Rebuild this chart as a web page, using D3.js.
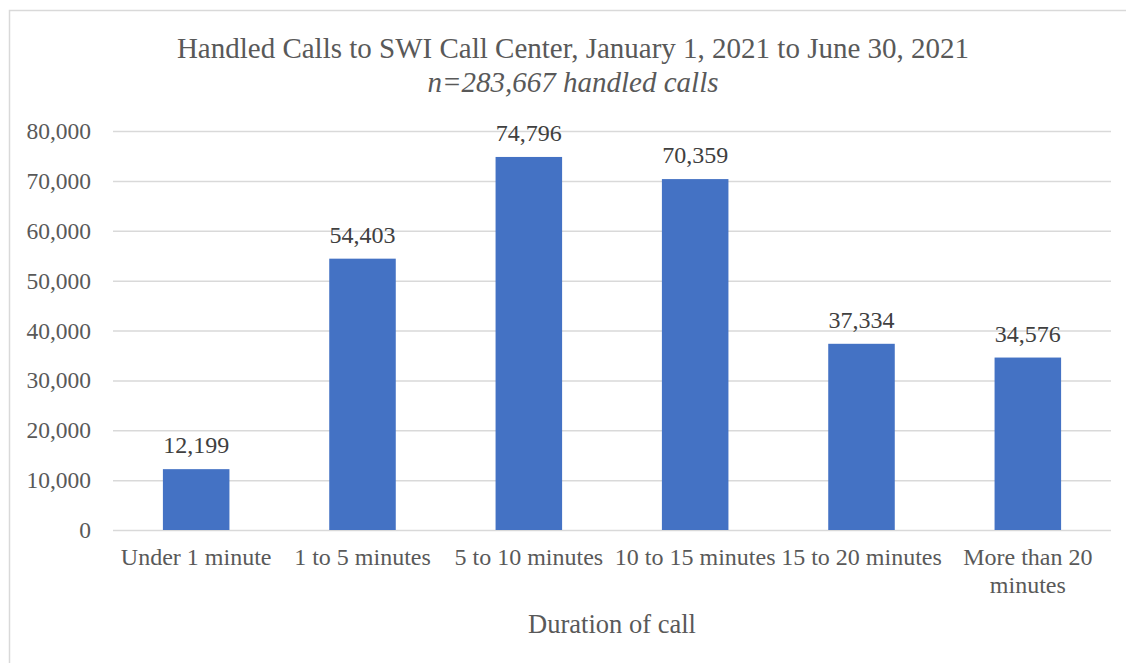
<!DOCTYPE html>
<html>
<head>
<meta charset="utf-8">
<script src="https://cdn.jsdelivr.net/npm/d3@7"></script>
<style>
  body { margin: 0; background: #fff; }
  svg { display: block; font-family: "Liberation Serif", "Times New Roman", serif; }
</style>
</head>
<body>
<svg id="chart" width="1126" height="663"></svg>
<script>
// data
var categories = ["Under 1 minute", "1 to 5 minutes", "5 to 10 minutes", "10 to 15 minutes", "15 to 20 minutes", "More than 20 minutes"];
var calls = [12199, 54403, 74796, 70359, 37334, 34576];
var yTicks = [0, 10000, 20000, 30000, 40000, 50000, 60000, 70000, 80000];
var title = "Handled Calls to SWI Call Center, January 1, 2021 to June 30, 2021";
var subtitle = "n=283,667 handled calls";
var xTitle = "Duration of call";

var chart = {
    margin: {top: 131, bottom: 133, left: 113, right: 15},
    width: 1126,
    height: 663,
    barColor: "#4472C4",
    gridColor: "#d9d9d9",
    textColor: "#595959",

    //wrap long category labels like Excel does
    wrap: function(texts, width){
        texts.each(function(){
            let text = d3.select(this);
            let words = text.text().split(" ");
            let lines = [], line = [];
            text.text(null);
            let probe = text.append("tspan");
            words.forEach(function(w){
                line.push(w);
                probe.text(line.join(" "));
                if(probe.node().getComputedTextLength() > width && line.length > 1){
                    line.pop();
                    lines.push(line.join(" "));
                    line = [w];
                }
            });
            lines.push(line.join(" "));
            probe.remove();
            lines.forEach(function(l, i){
                text.append("tspan")
                    .attr("x", 0)
                    .attr("dy", i == 0 ? 0 : 28)
                    .text(l);
            });
        });
    },

    draw: function(){
        let svg = d3.select("#chart");
        let m = chart.margin;
        let innerW = chart.width - m.left - m.right;
        let innerH = chart.height - m.top - m.bottom;

        //chart border
        svg.append("rect")
            .attr("x", 9.5).attr("y", 10.5)
            .attr("width", 1140).attr("height", 680)
            .attr("fill", "none")
            .attr("stroke", chart.gridColor)
            .attr("stroke-width", 1.5);

        //titles
        svg.append("text")
            .attr("x", 573).attr("y", 58)
            .attr("text-anchor", "middle")
            .attr("font-size", 29)
            .attr("fill", chart.textColor)
            .text(title);
        svg.append("text")
            .attr("x", 573).attr("y", 92)
            .attr("text-anchor", "middle")
            .attr("font-size", 29)
            .attr("font-style", "italic")
            .attr("fill", chart.textColor)
            .text(subtitle);

        //scales
        let xScale = d3.scaleBand()
            .domain(categories)
            .range([0, innerW])
            .paddingInner(0.6)
            .paddingOuter(0.3);
        let yScale = d3.scaleLinear()
            .domain([0, 80000])
            .range([innerH, 0]);

        let g = svg.append("g")
            .attr("transform", "translate(" + m.left + "," + m.top + ")");

        //y axis with gridlines
        let yAxis = d3.axisLeft(yScale)
            .tickValues(yTicks)
            .tickSize(-innerW)
            .tickPadding(22)
            .tickFormat(d3.format(","));
        let yg = g.append("g").call(yAxis);
        yg.select(".domain").remove();
        yg.selectAll(".tick line")
            .attr("stroke", chart.gridColor)
            .attr("stroke-width", 1.5);
        yg.selectAll(".tick text")
            .attr("font-family", "Liberation Serif")
            .attr("font-size", 23.5)
            .attr("fill", chart.textColor);

        //bars
        g.selectAll(".bar")
            .data(calls)
            .enter()
            .append("rect")
            .attr("class", "bar")
            .attr("x", (d, i) => xScale(categories[i]))
            .attr("y", d => yScale(d))
            .attr("width", xScale.bandwidth())
            .attr("height", d => innerH - yScale(d))
            .attr("fill", chart.barColor);

        //data labels
        g.selectAll(".label")
            .data(calls)
            .enter()
            .append("text")
            .attr("class", "label")
            .attr("x", (d, i) => xScale(categories[i]) + xScale.bandwidth() / 2)
            .attr("y", d => yScale(d) - 16)
            .attr("text-anchor", "middle")
            .attr("font-size", 24)
            .attr("fill", "#404040")
            .text(d => d3.format(",")(d));

        //x axis labels
        let xAxis = d3.axisBottom(xScale).tickSize(0).tickPadding(0);
        let xg = g.append("g")
            .attr("transform", "translate(0," + innerH + ")")
            .call(xAxis);
        xg.select(".domain").remove();
        xg.selectAll(".tick text")
            .attr("font-family", "Liberation Serif")
            .attr("font-size", 24)
            .attr("fill", chart.textColor)
            .attr("y", 35)
            .attr("dy", 0)
            .call(chart.wrap, xScale.step());

        //x axis title
        svg.append("text")
            .attr("x", m.left + innerW / 2)
            .attr("y", 633)
            .attr("text-anchor", "middle")
            .attr("font-size", 26.5)
            .attr("fill", chart.textColor)
            .text(xTitle);
    }
};
chart.draw();
</script>
</body>
</html>
